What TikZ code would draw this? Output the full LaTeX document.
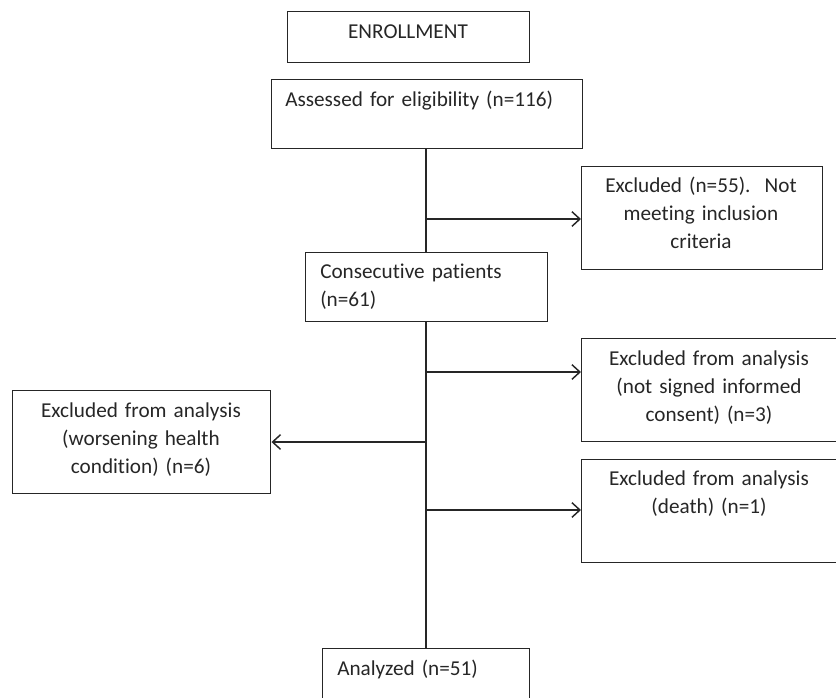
\documentclass[tikz,border=0pt]{standalone}
\usepackage{fontspec}
\setmainfont{Carlito}[Ligatures=NoCommon]
\usetikzlibrary{arrows.meta,calc}
\definecolor{ink}{HTML}{262626}
\frenchspacing
\begin{document}
\begin{tikzpicture}[x=0.75pt,y=-0.75pt,
  box/.style={draw=ink, line width=1.1pt, rectangle, inner sep=0pt, anchor=north west},
  txt/.style={text=ink, inner sep=0pt, font=\fontsize{15.9}{21}\selectfont},
  ctxt/.style={txt, align=center, anchor=base, text width=185pt},
  ltxt/.style={txt, align=left, anchor=base west, text width=260pt},
  spine/.style={draw=ink, line width=1.3pt},
  arr/.style={spine, -{Straight Barb[length=6pt,width=11pt,line width=1.1pt]}}]
\useasboundingbox (0,0) rectangle (836,697);
% boxes
\node[box, minimum width=181.5pt, minimum height=38.25pt] (enroll) at (287,11) {};
\node[box, minimum width=233.25pt, minimum height=51.75pt] (assess) at (271,79) {};
\node[box, minimum width=180.75pt, minimum height=77.25pt] (ex55) at (581,166) {};
\node[box, minimum width=181.5pt, minimum height=51.75pt] (consec) at (305,252) {};
\node[box, minimum width=196.5pt, minimum height=77.25pt] (exsign) at (581,338) {};
\node[box, minimum width=193.5pt, minimum height=77.25pt] (exworse) at (12,390) {};
\node[box, minimum width=196.5pt, minimum height=77.25pt] (exdeath) at (581,459) {};
\node[box, minimum width=155.25pt, minimum height=46.5pt] (analyzed) at (322,648) {};
% texts
\node[ctxt] (enrollt) at (408,38) {ENROLLMENT};
\node[ltxt] (assesst) at (285,106) {Assessed for eligibility (n=116)};
\node[ctxt] (ex55t) at (701,192) {Excluded (n=55).~ Not\\meeting inclusion\\criteria};
\node[ltxt] (consect) at (320,278) {Consecutive patients\\(n=61)};
\node[ctxt] (exsignt) at (709,365) {Excluded from analysis\\(not signed informed\\consent) (n=3)};
\node[ctxt] (exworset) at (141,417) {Excluded from analysis\\(worsening health\\condition) (n=6)};
\node[ctxt] (exdeatht) at (709,485) {Excluded from analysis\\(death) (n=1)};
\node[ltxt] (analyzedt) at (337,675) {Analyzed (n=51)};
% spine
\coordinate (j1) at (426,219);
\coordinate (j2) at (426,372);
\coordinate (j3) at (426,442);
\coordinate (j4) at (426,510);
\draw[spine] (assess.south -| j1) -- (consec.north -| j1);
\draw[spine] (consec.south -| j1) -- (analyzed.north -| j1);
\draw[arr] (j1) -- (j1 -| ex55.west);
\draw[arr] (j2) -- (j2 -| exsign.west);
\draw[arr] (j3) -- (j3 -| exworse.east);
\draw[arr] (j4) -- (j4 -| exdeath.west);
\end{tikzpicture}
\end{document}
